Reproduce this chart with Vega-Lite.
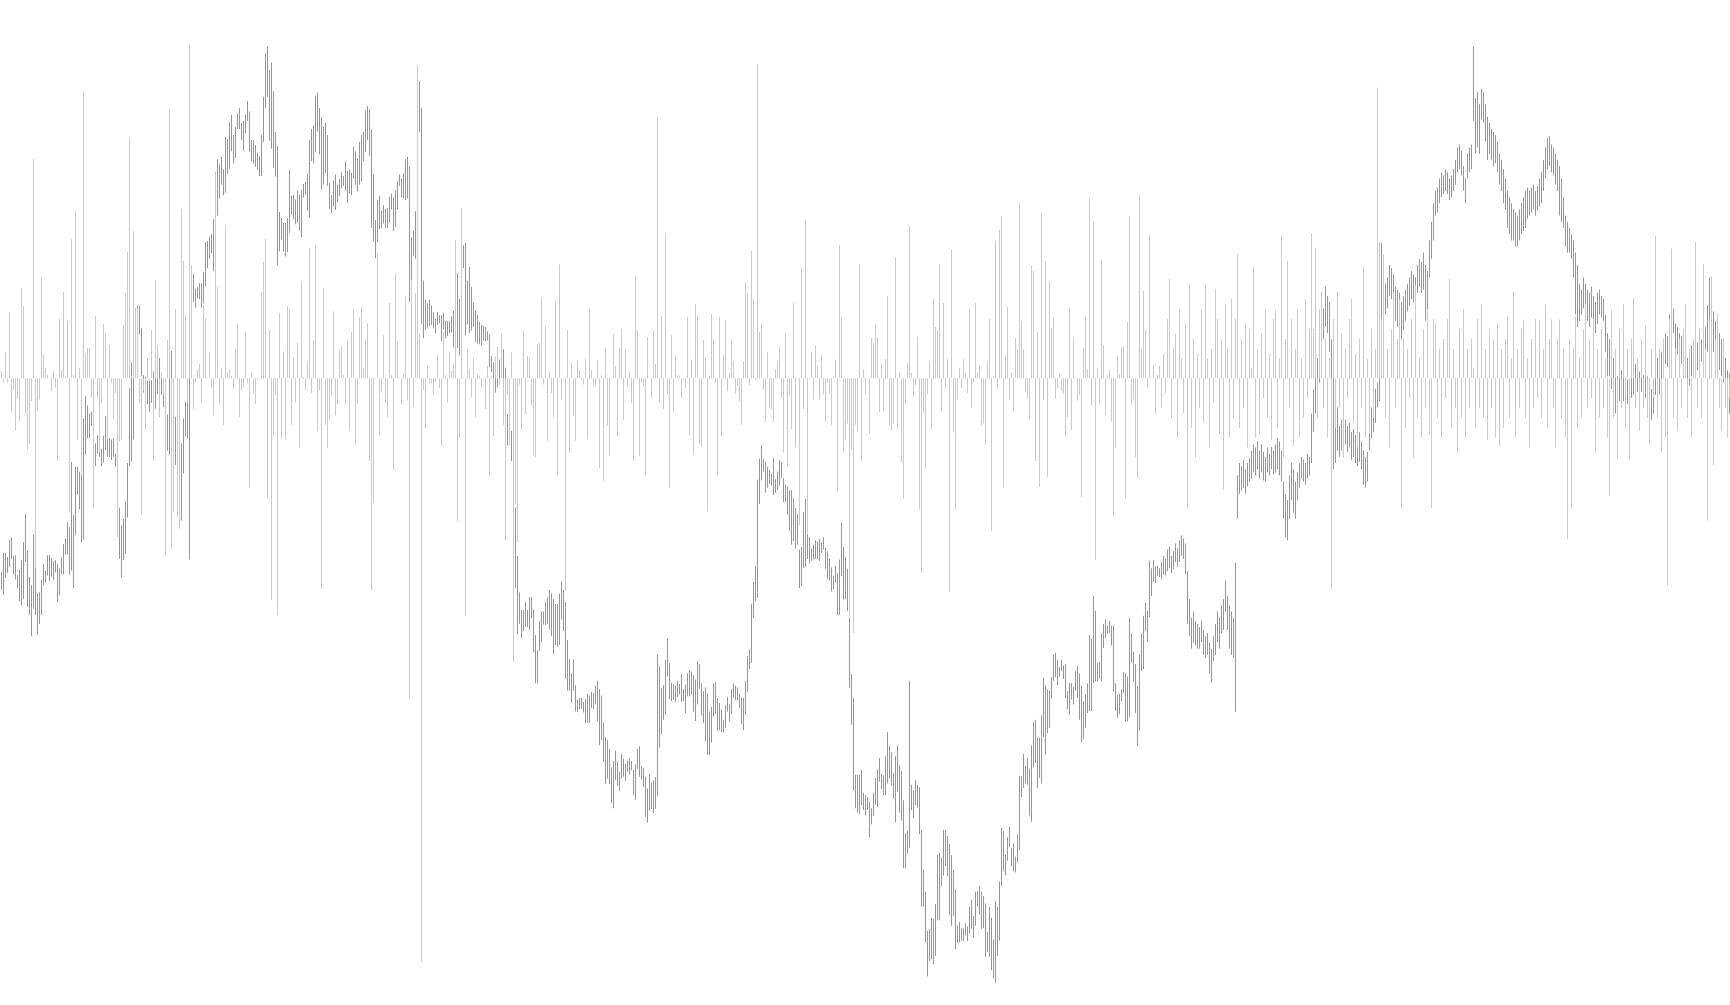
{"$schema":"https://vega.github.io/schema/vega-lite/v6.json","width":1730,"height":1005,"autosize":{"type":"fit","contains":"padding"},"padding":0,"background":"#ffffff","config":{"view":{"stroke":null}},
"data":{"values":[
{"i":0,"h":1124,"l":1095,"v":12},{"i":1,"h":1155,"l":1087,"v":-7},{"i":2,"h":1155,"l":1114,"v":42},{"i":3,"h":1148,"l":1122,"v":-7},{"i":4,"h":1176,"l":1132,"v":107},{"i":5,"h":1180,"l":1145,"v":-55},{"i":6,"h":1150,"l":1120,"v":-19},{"i":7,"h":1151,"l":1112,"v":-84},{"i":8,"h":1119,"l":1098,"v":-33},{"i":9,"h":1127,"l":1076,"v":-69},
{"i":10,"h":1143,"l":1070,"v":146},{"i":11,"h":1172,"l":1080,"v":117},{"i":12,"h":1218,"l":1140,"v":-57},{"i":13,"h":1159,"l":1067,"v":-115},{"i":14,"h":1116,"l":1054,"v":-107},{"i":15,"h":1103,"l":1020,"v":-37},{"i":16,"h":1184,"l":1065,"v":354},{"i":17,"h":1134,"l":1054,"v":-307},{"i":18,"h":1089,"l":1022,"v":-52},{"i":19,"h":1091,"l":1040,"v":-34},
{"i":20,"h":1111,"l":1054,"v":162},{"i":21,"h":1137,"l":1103,"v":39},{"i":22,"h":1126,"l":1107,"v":17},{"i":23,"h":1151,"l":1118,"v":5},{"i":24,"h":1151,"l":1109,"v":0},{"i":25,"h":1147,"l":1116,"v":-21},{"i":26,"h":1142,"l":1111,"v":12},{"i":27,"h":1143,"l":1123,"v":-15},{"i":28,"h":1137,"l":1075,"v":-134},{"i":29,"h":1130,"l":1086,"v":96},
{"i":30,"h":1148,"l":1120,"v":13},{"i":31,"h":1169,"l":1120,"v":139},{"i":32,"h":1178,"l":1152,"v":2},{"i":33,"h":1205,"l":1152,"v":93},{"i":34,"h":1197,"l":1120,"v":-217},{"i":35,"h":1302,"l":1126,"v":225},{"i":36,"h":1216,"l":1098,"v":5},{"i":37,"h":1294,"l":1183,"v":270},{"i":38,"h":1294,"l":1249,"v":-100},{"i":39,"h":1286,"l":1225,"v":17},
{"i":40,"h":1300,"l":1172,"v":-157},{"i":41,"h":1372,"l":1176,"v":463},{"i":42,"h":1408,"l":1314,"v":41},{"i":43,"h":1393,"l":1340,"v":49},{"i":44,"h":1380,"l":1340,"v":49},{"i":45,"h":1383,"l":1360,"v":-31},{"i":46,"h":1370,"l":1330,"v":-210},{"i":47,"h":1332,"l":1295,"v":101},{"i":48,"h":1345,"l":1315,"v":-33},{"i":49,"h":1340,"l":1310,"v":-120},
{"i":50,"h":1323,"l":1295,"v":-39},{"i":51,"h":1344,"l":1301,"v":88},{"i":52,"h":1376,"l":1321,"v":73},{"i":53,"h":1340,"l":1310,"v":-99},{"i":54,"h":1340,"l":1310,"v":54},{"i":55,"h":1338,"l":1305,"v":-8},{"i":56,"h":1340,"l":1310,"v":-65},{"i":57,"h":1315,"l":1294,"v":-24},{"i":58,"h":1300,"l":1230,"v":-257},{"i":59,"h":1228,"l":1145,"v":-102},
{"i":60,"h":1199,"l":1115,"v":-100},{"i":61,"h":1210,"l":1143,"v":85},{"i":62,"h":1238,"l":1153,"v":138},{"i":63,"h":1300,"l":1212,"v":204},{"i":64,"h":1421,"l":1295,"v":390},{"i":65,"h":1463,"l":1303,"v":3},{"i":66,"h":1440,"l":1338,"v":238},{"i":67,"h":1550,"l":1460,"v":112},{"i":68,"h":1555,"l":1480,"v":112},{"i":69,"h":1554,"l":1508,"v":-39},
{"i":70,"h":1518,"l":1440,"v":-220},{"i":71,"h":1442,"l":1414,"v":-21},{"i":72,"h":1440,"l":1400,"v":-83},{"i":73,"h":1433,"l":1395,"v":33},{"i":74,"h":1435,"l":1383,"v":-5},{"i":75,"h":1434,"l":1397,"v":78},{"i":76,"h":1448,"l":1400,"v":-134},{"i":77,"h":1460,"l":1388,"v":159},{"i":78,"h":1455,"l":1411,"v":54},{"i":79,"h":1470,"l":1400,"v":-63},
{"i":80,"h":1445,"l":1410,"v":7},{"i":81,"h":1425,"l":1390,"v":-27},{"i":82,"h":1400,"l":1360,"v":-285},{"i":83,"h":1378,"l":1320,"v":62},{"i":84,"h":1437,"l":1313,"v":434},{"i":85,"h":1481,"l":1360,"v":-275},{"i":86,"h":1400,"l":1310,"v":-217},{"i":87,"h":1375,"l":1297,"v":112},{"i":88,"h":1350,"l":1260,"v":-225},{"i":89,"h":1320,"l":1220,"v":-243},
{"i":90,"h":1332,"l":1207,"v":274},{"i":91,"h":1372,"l":1283,"v":190},{"i":92,"h":1399,"l":1343,"v":102},{"i":93,"h":1400,"l":1340,"v":-40},{"i":94,"h":1585,"l":1144,"v":539},{"i":95,"h":1600,"l":1550,"v":183},{"i":96,"h":1606,"l":1560,"v":-50},{"i":97,"h":1582,"l":1551,"v":-6},{"i":98,"h":1585,"l":1566,"v":14},{"i":99,"h":1591,"l":1565,"v":23},
{"i":100,"h":1591,"l":1551,"v":-39},{"i":101,"h":1609,"l":1558,"v":118},{"i":102,"h":1657,"l":1586,"v":97},{"i":103,"h":1659,"l":1615,"v":1},{"i":104,"h":1665,"l":1630,"v":42},{"i":105,"h":1670,"l":1639,"v":-15},{"i":106,"h":1694,"l":1610,"v":-60},{"i":107,"h":1770,"l":1700,"v":332},{"i":108,"h":1791,"l":1700,"v":148},{"i":109,"h":1783,"l":1728,"v":-42},
{"i":110,"h":1795,"l":1750,"v":17},{"i":111,"h":1775,"l":1733,"v":-76},{"i":112,"h":1827,"l":1737,"v":248},{"i":113,"h":1824,"l":1767,"v":9},{"i":114,"h":1851,"l":1775,"v":14},{"i":115,"h":1863,"l":1804,"v":4},{"i":116,"h":1830,"l":1784,"v":-18},{"i":117,"h":1843,"l":1793,"v":47},{"i":118,"h":1865,"l":1840,"v":88},{"i":119,"h":1874,"l":1840,"v":-63},
{"i":120,"h":1850,"l":1822,"v":-20},{"i":121,"h":1853,"l":1804,"v":-15},{"i":122,"h":1863,"l":1833,"v":75},{"i":123,"h":1885,"l":1853,"v":-8},{"i":124,"h":1868,"l":1803,"v":-177},{"i":125,"h":1822,"l":1788,"v":9},{"i":126,"h":1822,"l":1784,"v":-25},{"i":127,"h":1814,"l":1779,"v":-42},{"i":128,"h":1802,"l":1775,"v":-2},{"i":129,"h":1796,"l":1764,"v":1},
{"i":130,"h":1830,"l":1764,"v":139},{"i":131,"h":1892,"l":1819,"v":188},{"i":132,"h":1963,"l":1874,"v":225},{"i":133,"h":1973,"l":1892,"v":-194},{"i":134,"h":1935,"l":1821,"v":78},{"i":135,"h":1947,"l":1808,"v":-358},{"i":136,"h":1901,"l":1777,"v":-93},{"i":137,"h":1835,"l":1763,"v":-28},{"i":138,"h":1812,"l":1620,"v":-383},{"i":139,"h":1706,"l":1642,"v":106},
{"i":140,"h":1696,"l":1661,"v":-97},{"i":141,"h":1688,"l":1642,"v":43},{"i":142,"h":1688,"l":1634,"v":-99},{"i":143,"h":1696,"l":1641,"v":117},{"i":144,"h":1774,"l":1672,"v":110},{"i":145,"h":1732,"l":1702,"v":-75},{"i":146,"h":1734,"l":1694,"v":33},{"i":147,"h":1726,"l":1686,"v":-39},{"i":148,"h":1741,"l":1688,"v":57},{"i":149,"h":1734,"l":1676,"v":-113},
{"i":150,"h":1742,"l":1665,"v":157},{"i":151,"h":1751,"l":1729,"v":2},{"i":152,"h":1755,"l":1734,"v":-20},{"i":153,"h":1768,"l":1708,"v":28},{"i":154,"h":1822,"l":1697,"v":210},{"i":155,"h":1840,"l":1788,"v":-24},{"i":156,"h":1846,"l":1784,"v":62},{"i":157,"h":1894,"l":1803,"v":215},{"i":158,"h":1899,"l":1836,"v":-86},{"i":159,"h":1874,"l":1799,"v":-20},
{"i":160,"h":1859,"l":1742,"v":-341},{"i":161,"h":1844,"l":1750,"v":146},{"i":162,"h":1850,"l":1769,"v":-75},{"i":163,"h":1830,"l":1748,"v":-113},{"i":164,"h":1753,"l":1711,"v":-66},{"i":165,"h":1733,"l":1704,"v":-28},{"i":166,"h":1757,"l":1715,"v":108},{"i":167,"h":1766,"l":1709,"v":-60},{"i":168,"h":1750,"l":1722,"v":-42},{"i":169,"h":1759,"l":1731,"v":47},
{"i":170,"h":1770,"l":1744,"v":52},{"i":171,"h":1764,"l":1748,"v":5},{"i":172,"h":1788,"l":1740,"v":-42},{"i":173,"h":1772,"l":1720,"v":62},{"i":174,"h":1775,"l":1735,"v":-85},{"i":175,"h":1769,"l":1733,"v":75},{"i":176,"h":1811,"l":1760,"v":112},{"i":177,"h":1804,"l":1750,"v":-107},{"i":178,"h":1792,"l":1739,"v":-41},{"i":179,"h":1819,"l":1750,"v":99},
{"i":180,"h":1830,"l":1755,"v":115},{"i":181,"h":1835,"l":1788,"v":17},{"i":182,"h":1870,"l":1803,"v":62},{"i":183,"h":1877,"l":1822,"v":89},{"i":184,"h":1872,"l":1797,"v":-134},{"i":185,"h":1840,"l":1680,"v":-343},{"i":186,"h":1767,"l":1659,"v":-202},{"i":187,"h":1693,"l":1631,"v":-1},{"i":188,"h":1725,"l":1657,"v":201},{"i":189,"h":1732,"l":1678,"v":-92},
{"i":190,"h":1708,"l":1680,"v":-23},{"i":191,"h":1717,"l":1687,"v":70},{"i":192,"h":1711,"l":1680,"v":-39},{"i":193,"h":1712,"l":1680,"v":-63},{"i":194,"h":1730,"l":1689,"v":122},{"i":195,"h":1735,"l":1710,"v":5},{"i":196,"h":1730,"l":1675,"v":-149},{"i":197,"h":1741,"l":1682,"v":170},{"i":198,"h":1756,"l":1710,"v":59},{"i":199,"h":1766,"l":1748,"v":1},
{"i":200,"h":1760,"l":1730,"v":-42},{"i":201,"h":1769,"l":1728,"v":7},{"i":202,"h":1791,"l":1725,"v":132},{"i":203,"h":1795,"l":1728,"v":-36},{"i":204,"h":1779,"l":1560,"v":-517},{"i":205,"h":1665,"l":1596,"v":158},{"i":206,"h":1675,"l":1635,"v":-47},{"i":207,"h":1707,"l":1630,"v":138},{"i":208,"h":1910,"l":1800,"v":506},{"i":209,"h":1917,"l":1835,"v":72},
{"i":210,"h":1874,"l":1525,"v":-943},{"i":211,"h":1595,"l":1502,"v":-19},{"i":212,"h":1564,"l":1516,"v":-81},{"i":213,"h":1558,"l":1519,"v":20},{"i":214,"h":1564,"l":1522,"v":-10},{"i":215,"h":1555,"l":1523,"v":-8},{"i":216,"h":1544,"l":1518,"v":-26},{"i":217,"h":1533,"l":1510,"v":-5},{"i":218,"h":1544,"l":1523,"v":38},{"i":219,"h":1539,"l":1526,"v":-16},
{"i":220,"h":1539,"l":1497,"v":-110},{"i":221,"h":1543,"l":1516,"v":76},{"i":222,"h":1530,"l":1501,"v":5},{"i":223,"h":1530,"l":1505,"v":-39},{"i":224,"h":1530,"l":1510,"v":42},{"i":225,"h":1537,"l":1511,"v":12},{"i":226,"h":1546,"l":1487,"v":23},{"i":227,"h":1600,"l":1530,"v":224},{"i":228,"h":1607,"l":1486,"v":-231},{"i":229,"h":1565,"l":1474,"v":-97},
{"i":230,"h":1640,"l":1580,"v":275},{"i":231,"h":1652,"l":1615,"v":1},{"i":232,"h":1656,"l":1506,"v":-384},{"i":233,"h":1595,"l":1524,"v":47},{"i":234,"h":1617,"l":1510,"v":15},{"i":235,"h":1585,"l":1514,"v":-31},{"i":236,"h":1559,"l":1520,"v":32},{"i":237,"h":1547,"l":1496,"v":-63},{"i":238,"h":1539,"l":1493,"v":7},{"i":239,"h":1528,"l":1492,"v":4},
{"i":240,"h":1523,"l":1490,"v":-15},{"i":241,"h":1522,"l":1498,"v":1},{"i":242,"h":1520,"l":1497,"v":-50},{"i":243,"h":1513,"l":1498,"v":20},{"i":244,"h":1507,"l":1455,"v":-157},{"i":245,"h":1473,"l":1447,"v":3},{"i":246,"h":1463,"l":1437,"v":-94},{"i":247,"h":1455,"l":1414,"v":35},{"i":248,"h":1455,"l":1422,"v":51},{"i":249,"h":1467,"l":1430,"v":-11},
{"i":250,"h":1480,"l":1440,"v":72},{"i":251,"h":1484,"l":1430,"v":-75},{"i":252,"h":1454,"l":1420,"v":-262},{"i":253,"h":1379,"l":1328,"v":-27},{"i":254,"h":1370,"l":1330,"v":-109},{"i":255,"h":1352,"l":1303,"v":42},{"i":256,"h":1320,"l":1220,"v":-459},{"i":257,"h":1228,"l":1098,"v":-204},{"i":258,"h":1150,"l":1023,"v":-265},{"i":259,"h":1091,"l":1040,"v":-10},
{"i":260,"h":1063,"l":1017,"v":-83},{"i":261,"h":1062,"l":1028,"v":78},{"i":262,"h":1075,"l":1035,"v":-58},{"i":263,"h":1063,"l":1035,"v":36},{"i":264,"h":1083,"l":1030,"v":32},{"i":265,"h":1083,"l":1049,"v":-44},{"i":266,"h":1063,"l":994,"v":-126},{"i":267,"h":1022,"l":944,"v":-128},{"i":268,"h":997,"l":944,"v":54},{"i":269,"h":1045,"l":996,"v":57},
{"i":270,"h":1060,"l":1010,"v":131},{"i":271,"h":1060,"l":1039,"v":-10},{"i":272,"h":1076,"l":1038,"v":84},{"i":273,"h":1083,"l":1040,"v":-101},{"i":274,"h":1095,"l":1031,"v":12},{"i":275,"h":1089,"l":1020,"v":-24},{"i":276,"h":1080,"l":991,"v":-63},{"i":277,"h":1072,"l":1006,"v":126},{"i":278,"h":1072,"l":1003,"v":-157},{"i":279,"h":1089,"l":1006,"v":184},
{"i":280,"h":1109,"l":1047,"v":-35},{"i":281,"h":1095,"l":1028,"v":1},{"i":282,"h":1075,"l":951,"v":-344},{"i":283,"h":1014,"l":932,"v":78},{"i":284,"h":983,"l":932,"v":-121},{"i":285,"h":960,"l":913,"v":26},{"i":286,"h":982,"l":932,"v":-61},{"i":287,"h":941,"l":898,"v":-101},{"i":288,"h":917,"l":898,"v":30},{"i":289,"h":920,"l":902,"v":14},
{"i":290,"h":920,"l":903,"v":-3},{"i":291,"h":914,"l":897,"v":-10},{"i":292,"h":918,"l":880,"v":31},{"i":293,"h":927,"l":880,"v":-98},{"i":294,"h":924,"l":880,"v":112},{"i":295,"h":930,"l":904,"v":13},{"i":296,"h":928,"l":902,"v":-12},{"i":297,"h":940,"l":910,"v":-12},{"i":298,"h":948,"l":883,"v":30},{"i":299,"h":935,"l":844,"v":-145},
{"i":300,"h":924,"l":852,"v":5},{"i":301,"h":880,"l":817,"v":-166},{"i":302,"h":857,"l":781,"v":49},{"i":303,"h":852,"l":790,"v":-77},{"i":304,"h":838,"l":781,"v":-126},{"i":305,"h":808,"l":750,"v":1},{"i":306,"h":818,"l":742,"v":71},{"i":307,"h":835,"l":788,"v":20},{"i":308,"h":818,"l":778,"v":-94},{"i":309,"h":801,"l":770,"v":49},
{"i":310,"h":830,"l":790,"v":80},{"i":311,"h":822,"l":793,"v":-68},{"i":312,"h":814,"l":786,"v":47},{"i":313,"h":819,"l":801,"v":-15},{"i":314,"h":822,"l":796,"v":12},{"i":315,"h":818,"l":803,"v":-40},{"i":316,"h":804,"l":763,"v":-134},{"i":317,"h":813,"l":755,"v":165},{"i":318,"h":838,"l":805,"v":78},{"i":319,"h":842,"l":793,"v":-126},
{"i":320,"h":810,"l":788,"v":-7},{"i":321,"h":807,"l":776,"v":-12},{"i":322,"h":793,"l":728,"v":-157},{"i":323,"h":774,"l":719,"v":67},{"i":324,"h":797,"l":738,"v":1},{"i":325,"h":784,"l":741,"v":-32},{"i":326,"h":787,"l":734,"v":78},{"i":327,"h":792,"l":741,"v":23},{"i":328,"h":990,"l":762,"v":421},{"i":329,"h":971,"l":840,"v":-40},
{"i":330,"h":936,"l":862,"v":101},{"i":331,"h":941,"l":885,"v":-50},{"i":332,"h":982,"l":893,"v":235},{"i":333,"h":1016,"l":955,"v":-25},{"i":334,"h":977,"l":918,"v":-177},{"i":335,"h":945,"l":915,"v":70},{"i":336,"h":943,"l":917,"v":-53},{"i":337,"h":940,"l":914,"v":36},{"i":338,"h":948,"l":922,"v":5},{"i":339,"h":943,"l":926,"v":4},
{"i":340,"h":959,"l":914,"v":-32},{"i":341,"h":935,"l":915,"v":-2},{"i":342,"h":942,"l":896,"v":-16},{"i":343,"h":960,"l":923,"v":99},{"i":344,"h":965,"l":923,"v":-92},{"i":345,"h":963,"l":926,"v":30},{"i":346,"h":957,"l":898,"v":-124},{"i":347,"h":950,"l":883,"v":120},{"i":348,"h":980,"l":910,"v":101},{"i":349,"h":975,"l":935,"v":-106},
{"i":350,"h":944,"l":892,"v":-110},{"i":351,"h":931,"l":880,"v":62},{"i":352,"h":937,"l":850,"v":33},{"i":353,"h":928,"l":828,"v":-215},{"i":354,"h":898,"l":828,"v":4},{"i":355,"h":906,"l":848,"v":104},{"i":356,"h":944,"l":890,"v":64},{"i":357,"h":946,"l":894,"v":-7},{"i":358,"h":920,"l":867,"v":-157},{"i":359,"h":912,"l":868,"v":99},
{"i":360,"h":902,"l":865,"v":-94},{"i":361,"h":885,"l":864,"v":38},{"i":362,"h":908,"l":872,"v":94},{"i":363,"h":922,"l":898,"v":-21},{"i":364,"h":910,"l":883,"v":9},{"i":365,"h":935,"l":894,"v":62},{"i":366,"h":944,"l":921,"v":28},{"i":367,"h":940,"l":917,"v":-25},{"i":368,"h":937,"l":916,"v":-12},{"i":369,"h":927,"l":904,"v":-37},
{"i":370,"h":921,"l":878,"v":-75},{"i":371,"h":920,"l":868,"v":28},{"i":372,"h":948,"l":893,"v":156},{"i":373,"h":988,"l":930,"v":138},{"i":374,"h":999,"l":967,"v":-11},{"i":375,"h":1072,"l":977,"v":206},{"i":376,"h":1108,"l":1050,"v":128},{"i":377,"h":1134,"l":1077,"v":-3},{"i":378,"h":1273,"l":1082,"v":508},{"i":379,"h":1307,"l":1234,"v":75},
{"i":380,"h":1329,"l":1272,"v":88},{"i":381,"h":1307,"l":1286,"v":-18},{"i":382,"h":1302,"l":1252,"v":-71},{"i":383,"h":1294,"l":1260,"v":42},{"i":384,"h":1289,"l":1266,"v":-48},{"i":385,"h":1283,"l":1264,"v":-50},{"i":386,"h":1308,"l":1248,"v":-71},{"i":387,"h":1274,"l":1252,"v":15},{"i":388,"h":1286,"l":1256,"v":28},{"i":389,"h":1305,"l":1264,"v":51},
{"i":390,"h":1302,"l":1276,"v":-32},{"i":391,"h":1276,"l":1237,"v":-120},{"i":392,"h":1265,"l":1237,"v":72},{"i":393,"h":1262,"l":1216,"v":-142},{"i":394,"h":1256,"l":1190,"v":-27},{"i":395,"h":1256,"l":1168,"v":-82},{"i":396,"h":1243,"l":1174,"v":122},{"i":397,"h":1227,"l":1162,"v":-111},{"i":398,"h":1218,"l":1168,"v":1},{"i":399,"h":1160,"l":1098,"v":-237},
{"i":400,"h":1164,"l":1101,"v":178},{"i":401,"h":1221,"l":1130,"v":-50},{"i":402,"h":1242,"l":1132,"v":256},{"i":403,"h":1185,"l":1145,"v":-251},{"i":404,"h":1180,"l":1138,"v":1},{"i":405,"h":1162,"l":1142,"v":42},{"i":406,"h":1168,"l":1144,"v":-34},{"i":407,"h":1175,"l":1145,"v":54},{"i":408,"h":1173,"l":1145,"v":20},{"i":409,"h":1177,"l":1142,"v":-35},
{"i":410,"h":1172,"l":1155,"v":38},{"i":411,"h":1180,"l":1160,"v":-26},{"i":412,"h":1163,"l":1129,"v":-71},{"i":413,"h":1157,"l":1112,"v":-7},{"i":414,"h":1145,"l":1110,"v":-25},{"i":415,"h":1131,"l":1092,"v":-75},{"i":416,"h":1118,"l":1096,"v":2},{"i":417,"h":1134,"l":1107,"v":30},{"i":418,"h":1122,"l":1054,"v":-183},{"i":419,"h":1144,"l":1054,"v":215},
{"i":420,"h":1204,"l":1117,"v":99},{"i":421,"h":1164,"l":1079,"v":-119},{"i":422,"h":1148,"l":1080,"v":-100},{"i":423,"h":1129,"l":1061,"v":-73},{"i":424,"h":1050,"l":936,"v":-385},{"i":425,"h":959,"l":877,"v":-116},{"i":426,"h":920,"l":770,"v":-412},{"i":427,"h":796,"l":742,"v":-75},{"i":428,"h":796,"l":735,"v":-87},{"i":429,"h":796,"l":733,"v":185},
{"i":430,"h":804,"l":747,"v":-134},{"i":431,"h":767,"l":739,"v":15},{"i":432,"h":763,"l":731,"v":-26},{"i":433,"h":760,"l":739,"v":-1},{"i":434,"h":752,"l":695,"v":-90},{"i":435,"h":742,"l":716,"v":65},{"i":436,"h":767,"l":730,"v":57},{"i":437,"h":791,"l":748,"v":87},{"i":438,"h":805,"l":744,"v":67},{"i":439,"h":823,"l":785,"v":-55},
{"i":440,"h":798,"l":773,"v":23},{"i":441,"h":795,"l":763,"v":-52},{"i":442,"h":826,"l":763,"v":31},{"i":443,"h":865,"l":782,"v":133},{"i":444,"h":843,"l":790,"v":-75},{"i":445,"h":832,"l":779,"v":-84},{"i":446,"h":799,"l":757,"v":-73},{"i":447,"h":826,"l":719,"v":196},{"i":448,"h":844,"l":768,"v":-83},{"i":449,"h":812,"l":735,"v":9},
{"i":450,"h":802,"l":722,"v":-136},{"i":451,"h":755,"l":645,"v":-194},{"i":452,"h":702,"l":645,"v":-41},{"i":453,"h":705,"l":669,"v":25},{"i":454,"h":948,"l":678,"v":246},{"i":455,"h":780,"l":739,"v":9},{"i":456,"h":771,"l":726,"v":-31},{"i":457,"h":788,"l":747,"v":-11},{"i":458,"h":780,"l":743,"v":67},{"i":459,"h":776,"l":700,"v":-212},
{"i":460,"h":707,"l":583,"v":-315},{"i":461,"h":643,"l":583,"v":-56},{"i":462,"h":607,"l":525,"v":-147},{"i":463,"h":544,"l":470,"v":-26},{"i":464,"h":547,"l":495,"v":28},{"i":465,"h":565,"l":498,"v":-83},{"i":466,"h":563,"l":490,"v":128},{"i":467,"h":587,"l":503,"v":83},{"i":468,"h":667,"l":561,"v":78},{"i":469,"h":670,"l":561,"v":185},
{"i":470,"h":662,"l":616,"v":-52},{"i":471,"h":707,"l":633,"v":122},{"i":472,"h":707,"l":648,"v":-18},{"i":473,"h":697,"l":632,"v":31},{"i":474,"h":684,"l":569,"v":-346},{"i":475,"h":666,"l":552,"v":208},{"i":476,"h":642,"l":568,"v":-87},{"i":477,"h":611,"l":514,"v":-212},{"i":478,"h":552,"l":524,"v":-34},{"i":479,"h":558,"l":525,"v":17},
{"i":480,"h":548,"l":528,"v":-16},{"i":481,"h":548,"l":527,"v":31},{"i":482,"h":556,"l":536,"v":9},{"i":483,"h":551,"l":527,"v":-24},{"i":484,"h":583,"l":539,"v":112},{"i":485,"h":594,"l":547,"v":-47},{"i":486,"h":568,"l":533,"v":-7},{"i":487,"h":607,"l":552,"v":122},{"i":488,"h":608,"l":583,"v":9},{"i":489,"h":616,"l":570,"v":20},
{"i":490,"h":607,"l":547,"v":-76},{"i":491,"h":600,"l":548,"v":-73},{"i":492,"h":588,"l":502,"v":-108},{"i":493,"h":542,"l":510,"v":28},{"i":494,"h":582,"l":502,"v":96},{"i":495,"h":565,"l":480,"v":-247},{"i":496,"h":530,"l":467,"v":4},{"i":497,"h":592,"l":460,"v":222},{"i":498,"h":582,"l":503,"v":-18},{"i":499,"h":624,"l":528,"v":240},
{"i":500,"h":710,"l":616,"v":262},{"i":501,"h":705,"l":640,"v":-177},{"i":502,"h":667,"l":633,"v":36},{"i":503,"h":695,"l":657,"v":115},{"i":504,"h":712,"l":679,"v":-35},{"i":505,"h":678,"l":648,"v":9},{"i":506,"h":685,"l":640,"v":-52},{"i":507,"h":664,"l":638,"v":65},{"i":508,"h":700,"l":654,"v":47},{"i":509,"h":794,"l":674,"v":283},
{"i":510,"h":794,"l":760,"v":93},{"i":511,"h":830,"l":775,"v":47},{"i":512,"h":810,"l":782,"v":-21},{"i":513,"h":823,"l":780,"v":-33},{"i":514,"h":806,"l":730,"v":-66},{"i":515,"h":844,"l":720,"v":182},{"i":516,"h":882,"l":808,"v":173},{"i":517,"h":885,"l":815,"v":-134},{"i":518,"h":856,"l":775,"v":75},{"i":519,"h":856,"l":791,"v":-176},
{"i":520,"h":892,"l":782,"v":267},{"i":521,"h":953,"l":857,"v":-35},{"i":522,"h":941,"l":828,"v":190},{"i":523,"h":934,"l":863,"v":-159},{"i":524,"h":932,"l":872,"v":157},{"i":525,"h":954,"l":919,"v":81},{"i":526,"h":991,"l":948,"v":98},{"i":527,"h":993,"l":954,"v":-33},{"i":528,"h":982,"l":941,"v":-16},{"i":529,"h":970,"l":955,"v":7},
{"i":530,"h":982,"l":964,"v":-20},{"i":531,"h":973,"l":951,"v":-25},{"i":532,"h":975,"l":920,"v":-93},{"i":533,"h":931,"l":902,"v":-63},{"i":534,"h":944,"l":893,"v":114},{"i":535,"h":944,"l":918,"v":-84},{"i":536,"h":938,"l":910,"v":67},{"i":537,"h":964,"l":932,"v":1},{"i":538,"h":972,"l":920,"v":-36},{"i":539,"h":960,"l":885,"v":-27},
{"i":540,"h":940,"l":849,"v":-192},{"i":541,"h":915,"l":854,"v":49},{"i":542,"h":927,"l":872,"v":99},{"i":543,"h":944,"l":896,"v":15},{"i":544,"h":1022,"l":899,"v":291},{"i":545,"h":1016,"l":899,"v":-44},{"i":546,"h":1085,"l":944,"v":254},{"i":547,"h":1061,"l":947,"v":-294},{"i":548,"h":977,"l":947,"v":17},{"i":549,"h":979,"l":952,"v":-41},
{"i":550,"h":1025,"l":947,"v":191},{"i":551,"h":1040,"l":1001,"v":54},{"i":552,"h":1047,"l":1017,"v":-60},{"i":553,"h":1037,"l":1024,"v":4},{"i":554,"h":1045,"l":1025,"v":14},{"i":555,"h":1037,"l":1005,"v":-70},{"i":556,"h":1038,"l":930,"v":-223},{"i":557,"h":944,"l":899,"v":-112},{"i":558,"h":925,"l":888,"v":36},{"i":559,"h":927,"l":894,"v":7},
{"i":560,"h":934,"l":915,"v":49},{"i":561,"h":962,"l":928,"v":52},{"i":562,"h":960,"l":882,"v":-194},{"i":563,"h":955,"l":883,"v":91},{"i":564,"h":1050,"l":889,"v":262},{"i":565,"h":1025,"l":977,"v":-43},{"i":566,"h":995,"l":946,"v":-34},{"i":567,"h":975,"l":896,"v":-128},{"i":568,"h":940,"l":843,"v":-162},{"i":569,"h":990,"l":867,"v":296},
{"i":570,"h":1025,"l":964,"v":47},{"i":571,"h":1053,"l":967,"v":141},{"i":572,"h":1074,"l":1028,"v":78},{"i":573,"h":1061,"l":1011,"v":-15},{"i":574,"h":1142,"l":1051,"v":232},{"i":575,"h":1130,"l":1085,"v":1},{"i":576,"h":1143,"l":1108,"v":21},{"i":577,"h":1133,"l":1106,"v":-58},{"i":578,"h":1134,"l":1117,"v":5},{"i":579,"h":1130,"l":1116,"v":20},
{"i":580,"h":1140,"l":1112,"v":-48},{"i":581,"h":1150,"l":1120,"v":40},{"i":582,"h":1145,"l":1118,"v":-24},{"i":583,"h":1160,"l":1125,"v":96},{"i":584,"h":1165,"l":1130,"v":160},{"i":585,"h":1150,"l":1122,"v":-64},{"i":586,"h":1158,"l":1128,"v":48},{"i":587,"h":1170,"l":1140,"v":72},{"i":588,"h":1162,"l":1132,"v":-96},{"i":589,"h":1175,"l":1140,"v":112},
{"i":590,"h":1183,"l":1150,"v":32},{"i":591,"h":1178,"l":1145,"v":-56},{"i":592,"h":1170,"l":1120,"v":90},{"i":593,"h":1125,"l":1040,"v":-210},{"i":594,"h":1080,"l":1020,"v":150},{"i":595,"h":1050,"l":1000,"v":-80},{"i":596,"h":1060,"l":1010,"v":64},{"i":597,"h":1045,"l":1005,"v":-128},{"i":598,"h":1040,"l":1000,"v":40},{"i":599,"h":1035,"l":1000,"v":-48},
{"i":600,"h":1045,"l":1010,"v":112},{"i":601,"h":1030,"l":990,"v":-72},{"i":602,"h":1020,"l":985,"v":150},{"i":603,"h":1025,"l":990,"v":32},{"i":604,"h":1010,"l":960,"v":-112},{"i":605,"h":1000,"l":945,"v":48},{"i":606,"h":1020,"l":980,"v":-40},{"i":607,"h":1040,"l":990,"v":145},{"i":608,"h":1060,"l":1010,"v":96},{"i":609,"h":1050,"l":1000,"v":-90},
{"i":610,"h":1070,"l":1025,"v":64},{"i":611,"h":1080,"l":1030,"v":-180},{"i":612,"h":1110,"l":1060,"v":120},{"i":613,"h":1085,"l":1030,"v":48},{"i":614,"h":1070,"l":1000,"v":-96},{"i":615,"h":1060,"l":990,"v":128},{"i":616,"h":1050,"l":985,"v":-64},{"i":617,"h":1139,"l":898,"v":96},{"i":618,"h":1280,"l":1210,"v":200},{"i":619,"h":1300,"l":1250,"v":-80},
{"i":620,"h":1295,"l":1255,"v":64},{"i":621,"h":1305,"l":1260,"v":-48},{"i":622,"h":1290,"l":1250,"v":90},{"i":623,"h":1300,"l":1262,"v":-112},{"i":624,"h":1308,"l":1270,"v":80},{"i":625,"h":1320,"l":1275,"v":16},{"i":626,"h":1330,"l":1285,"v":180},{"i":627,"h":1325,"l":1280,"v":-96},{"i":628,"h":1335,"l":1290,"v":48},{"i":629,"h":1320,"l":1275,"v":-90},
{"i":630,"h":1330,"l":1285,"v":72},{"i":631,"h":1318,"l":1272,"v":-32},{"i":632,"h":1310,"l":1270,"v":112},{"i":633,"h":1325,"l":1285,"v":-64},{"i":634,"h":1315,"l":1280,"v":40},{"i":635,"h":1326,"l":1290,"v":-100},{"i":636,"h":1320,"l":1282,"v":96},{"i":637,"h":1330,"l":1285,"v":110},{"i":638,"h":1340,"l":1290,"v":-80},{"i":639,"h":1335,"l":1280,"v":32},
{"i":640,"h":1320,"l":1270,"v":230},{"i":641,"h":1270,"l":1210,"v":-128},{"i":642,"h":1250,"l":1180,"v":64},{"i":643,"h":1240,"l":1175,"v":190},{"i":644,"h":1280,"l":1210,"v":-48},{"i":645,"h":1300,"l":1240,"v":96},{"i":646,"h":1290,"l":1220,"v":-110},{"i":647,"h":1270,"l":1210,"v":48},{"i":648,"h":1285,"l":1240,"v":110},{"i":649,"h":1300,"l":1260,"v":-96},
{"i":650,"h":1310,"l":1275,"v":32},{"i":651,"h":1305,"l":1270,"v":-64},{"i":652,"h":1300,"l":1265,"v":128},{"i":653,"h":1315,"l":1275,"v":-32},{"i":654,"h":1310,"l":1280,"v":80},{"i":655,"h":1380,"l":1300,"v":235},{"i":656,"h":1420,"l":1350,"v":80},{"i":657,"h":1450,"l":1380,"v":210},{"i":658,"h":1470,"l":1400,"v":-64},{"i":659,"h":1490,"l":1430,"v":112},
{"i":660,"h":1520,"l":1460,"v":140},{"i":661,"h":1550,"l":1500,"v":-48},{"i":662,"h":1585,"l":1520,"v":64},{"i":663,"h":1570,"l":1510,"v":-96},{"i":664,"h":1560,"l":1480,"v":32},{"i":665,"h":1500,"l":1400,"v":-340},{"i":666,"h":1440,"l":1290,"v":96},{"i":667,"h":1420,"l":1300,"v":-80},{"i":668,"h":1390,"l":1320,"v":140},{"i":669,"h":1360,"l":1310,"v":-48},
{"i":670,"h":1370,"l":1320,"v":72},{"i":671,"h":1365,"l":1322,"v":-128},{"i":672,"h":1370,"l":1330,"v":48},{"i":673,"h":1360,"l":1318,"v":-32},{"i":674,"h":1365,"l":1325,"v":96},{"i":675,"h":1350,"l":1305,"v":128},{"i":676,"h":1355,"l":1310,"v":-72},{"i":677,"h":1345,"l":1300,"v":40},{"i":678,"h":1340,"l":1295,"v":-112},{"i":679,"h":1350,"l":1302,"v":64},
{"i":680,"h":1335,"l":1290,"v":-48},{"i":681,"h":1320,"l":1265,"v":180},{"i":682,"h":1310,"l":1260,"v":-96},{"i":683,"h":1318,"l":1270,"v":32},{"i":684,"h":1370,"l":1320,"v":-90},{"i":685,"h":1390,"l":1340,"v":80},{"i":686,"h":1400,"l":1350,"v":-64},{"i":687,"h":1420,"l":1365,"v":48},{"i":688,"h":1430,"l":1390,"v":470},{"i":689,"h":1445,"l":1400,"v":220},
{"i":690,"h":1656,"l":1531,"v":96},{"i":691,"h":1610,"l":1560,"v":200},{"i":692,"h":1590,"l":1540,"v":-64},{"i":693,"h":1600,"l":1550,"v":48},{"i":694,"h":1620,"l":1570,"v":-112},{"i":695,"h":1615,"l":1565,"v":80},{"i":696,"h":1605,"l":1555,"v":140},{"i":697,"h":1585,"l":1530,"v":-48},{"i":698,"h":1580,"l":1520,"v":64},{"i":699,"h":1575,"l":1525,"v":128},
{"i":700,"h":1560,"l":1500,"v":-210},{"i":701,"h":1570,"l":1515,"v":64},{"i":702,"h":1580,"l":1530,"v":-80},{"i":703,"h":1590,"l":1545,"v":48},{"i":704,"h":1600,"l":1555,"v":-32},{"i":705,"h":1610,"l":1565,"v":96},{"i":706,"h":1605,"l":1560,"v":-128},{"i":707,"h":1600,"l":1555,"v":150},{"i":708,"h":1620,"l":1575,"v":-64},{"i":709,"h":1630,"l":1585,"v":32},
{"i":710,"h":1625,"l":1575,"v":-96},{"i":711,"h":1640,"l":1580,"v":80},{"i":712,"h":1620,"l":1530,"v":-48},{"i":713,"h":1610,"l":1540,"v":112},{"i":714,"h":1660,"l":1600,"v":-90},{"i":715,"h":1690,"l":1630,"v":-210},{"i":716,"h":1720,"l":1660,"v":96},{"i":717,"h":1740,"l":1700,"v":90},{"i":718,"h":1745,"l":1705,"v":-64},{"i":719,"h":1760,"l":1720,"v":48},
{"i":720,"h":1770,"l":1730,"v":-96},{"i":721,"h":1765,"l":1735,"v":64},{"i":722,"h":1775,"l":1740,"v":-32},{"i":723,"h":1770,"l":1735,"v":96},{"i":724,"h":1760,"l":1725,"v":160},{"i":725,"h":1765,"l":1730,"v":-80},{"i":726,"h":1775,"l":1740,"v":48},{"i":727,"h":1790,"l":1750,"v":-48},{"i":728,"h":1810,"l":1770,"v":-120},{"i":729,"h":1815,"l":1775,"v":80},
{"i":730,"h":1805,"l":1765,"v":-64},{"i":731,"h":1780,"l":1740,"v":112},{"i":732,"h":1760,"l":1720,"v":-96},{"i":733,"h":1800,"l":1760,"v":48},{"i":734,"h":1810,"l":1770,"v":-48},{"i":735,"h":1815,"l":1775,"v":64},{"i":736,"h":1973,"l":1853,"v":16},{"i":737,"h":1890,"l":1800,"v":-80},{"i":738,"h":1900,"l":1810,"v":96},{"i":739,"h":1880,"l":1800,"v":-48},
{"i":740,"h":1905,"l":1855,"v":120},{"i":741,"h":1900,"l":1850,"v":-64},{"i":742,"h":1880,"l":1820,"v":48},{"i":743,"h":1860,"l":1790,"v":-100},{"i":744,"h":1850,"l":1800,"v":80},{"i":745,"h":1840,"l":1790,"v":-48},{"i":746,"h":1835,"l":1780,"v":64},{"i":747,"h":1830,"l":1785,"v":-96},{"i":748,"h":1820,"l":1770,"v":90},{"i":749,"h":1800,"l":1750,"v":-110},
{"i":750,"h":1790,"l":1740,"v":48},{"i":751,"h":1775,"l":1720,"v":-80},{"i":752,"h":1760,"l":1710,"v":64},{"i":753,"h":1740,"l":1680,"v":100},{"i":754,"h":1730,"l":1670,"v":-64},{"i":755,"h":1720,"l":1660,"v":32},{"i":756,"h":1710,"l":1660,"v":140},{"i":757,"h":1705,"l":1650,"v":-96},{"i":758,"h":1700,"l":1650,"v":48},{"i":759,"h":1710,"l":1660,"v":-48},
{"i":760,"h":1720,"l":1670,"v":80},{"i":761,"h":1730,"l":1675,"v":95},{"i":762,"h":1740,"l":1680,"v":-64},{"i":763,"h":1745,"l":1695,"v":32},{"i":764,"h":1740,"l":1700,"v":-112},{"i":765,"h":1745,"l":1705,"v":64},{"i":766,"h":1750,"l":1710,"v":-48},{"i":767,"h":1740,"l":1700,"v":96},{"i":768,"h":1748,"l":1708,"v":-32},{"i":769,"h":1760,"l":1715,"v":95},
{"i":770,"h":1770,"l":1720,"v":-64},{"i":771,"h":1790,"l":1740,"v":48},{"i":772,"h":1810,"l":1760,"v":120},{"i":773,"h":1825,"l":1775,"v":-80},{"i":774,"h":1828,"l":1780,"v":64},{"i":775,"h":1815,"l":1770,"v":95},{"i":776,"h":1810,"l":1765,"v":-48},{"i":777,"h":1800,"l":1750,"v":-112},{"i":778,"h":1790,"l":1740,"v":64},{"i":779,"h":1780,"l":1700,"v":95},
{"i":780,"h":1760,"l":1690,"v":-64},{"i":781,"h":1730,"l":1680,"v":48},{"i":782,"h":1700,"l":1650,"v":-96},{"i":783,"h":1690,"l":1640,"v":-260},{"i":784,"h":1680,"l":1640,"v":64},{"i":785,"h":1670,"l":1630,"v":-210},{"i":786,"h":1660,"l":1600,"v":48},{"i":787,"h":1640,"l":1540,"v":100},{"i":788,"h":1620,"l":1520,"v":-80},{"i":789,"h":1590,"l":1530,"v":32},
{"i":790,"h":1580,"l":1540,"v":-64},{"i":791,"h":1600,"l":1550,"v":80},{"i":792,"h":1590,"l":1545,"v":120},{"i":793,"h":1580,"l":1530,"v":-48},{"i":794,"h":1575,"l":1520,"v":64},{"i":795,"h":1585,"l":1535,"v":-32},{"i":796,"h":1570,"l":1520,"v":96},{"i":797,"h":1560,"l":1510,"v":-120},{"i":798,"h":1575,"l":1525,"v":48},{"i":799,"h":1580,"l":1540,"v":-64},
{"i":800,"h":1570,"l":1535,"v":80},{"i":801,"h":1565,"l":1530,"v":-48},{"i":802,"h":1540,"l":1480,"v":32},{"i":803,"h":1510,"l":1440,"v":-96},{"i":804,"h":1500,"l":1440,"v":-190},{"i":805,"h":1490,"l":1420,"v":110},{"i":806,"h":1470,"l":1400,"v":-64},{"i":807,"h":1450,"l":1380,"v":48},{"i":808,"h":1440,"l":1390,"v":-130},{"i":809,"h":1460,"l":1400,"v":80},
{"i":810,"h":1450,"l":1410,"v":-48},{"i":811,"h":1445,"l":1400,"v":120},{"i":812,"h":1430,"l":1400,"v":-80},{"i":813,"h":1435,"l":1395,"v":48},{"i":814,"h":1430,"l":1400,"v":-130},{"i":815,"h":1440,"l":1405,"v":64},{"i":816,"h":1450,"l":1410,"v":130},{"i":817,"h":1460,"l":1420,"v":-48},{"i":818,"h":1455,"l":1415,"v":32},{"i":819,"h":1448,"l":1412,"v":-85},
{"i":820,"h":1450,"l":1415,"v":64},{"i":821,"h":1442,"l":1410,"v":-48},{"i":822,"h":1445,"l":1405,"v":85},{"i":823,"h":1440,"l":1395,"v":-64},{"i":824,"h":1435,"l":1380,"v":-106},{"i":825,"h":1420,"l":1370,"v":48},{"i":826,"h":1430,"l":1380,"v":-32},{"i":827,"h":1460,"l":1410,"v":230},{"i":828,"h":1470,"l":1420,"v":-64},{"i":829,"h":1465,"l":1410,"v":48},
{"i":830,"h":1480,"l":1430,"v":-120},{"i":831,"h":1500,"l":1440,"v":64},{"i":832,"h":1510,"l":1460,"v":-96},{"i":833,"h":1505,"l":1455,"v":-335},{"i":834,"h":1540,"l":1495,"v":96},{"i":835,"h":1545,"l":1500,"v":210},{"i":836,"h":1550,"l":1510,"v":-64},{"i":837,"h":1525,"l":1480,"v":48},{"i":838,"h":1520,"l":1475,"v":-85},{"i":839,"h":1510,"l":1470,"v":64},
{"i":840,"h":1505,"l":1460,"v":-48},{"i":841,"h":1490,"l":1450,"v":80},{"i":842,"h":1480,"l":1440,"v":120},{"i":843,"h":1470,"l":1430,"v":-64},{"i":844,"h":1475,"l":1425,"v":48},{"i":845,"h":1490,"l":1440,"v":-96},{"i":846,"h":1500,"l":1450,"v":64},{"i":847,"h":1505,"l":1460,"v":220},{"i":848,"h":1495,"l":1450,"v":-48},{"i":849,"h":1490,"l":1460,"v":80},
{"i":850,"h":1500,"l":1465,"v":-64},{"i":851,"h":1495,"l":1460,"v":185},{"i":852,"h":1520,"l":1470,"v":48},{"i":853,"h":1555,"l":1480,"v":-230},{"i":854,"h":1600,"l":1520,"v":96},{"i":855,"h":1590,"l":1530,"v":165},{"i":856,"h":1545,"l":1480,"v":-140},{"i":857,"h":1530,"l":1470,"v":64},{"i":858,"h":1520,"l":1460,"v":105},{"i":859,"h":1510,"l":1450,"v":-48},
{"i":860,"h":1500,"l":1440,"v":-85},{"i":861,"h":1490,"l":1430,"v":64},{"i":862,"h":1470,"l":1400,"v":-48},{"i":863,"h":1450,"l":1390,"v":-96},{"i":864,"h":1445,"l":1380,"v":-32}
]},
"layer":[
{"mark":{"type":"rule","color":"#00ff00","strokeWidth":1},
 "encoding":{
  "x":{"field":"i","type":"quantitative","scale":{"domain":[-0.75,864.25],"nice":false,"zero":false},"axis":null},
  "y":{"field":"h","type":"quantitative","scale":{"domain":[423.9,2048.5],"nice":false,"zero":false},"axis":null},
  "y2":{"field":"l"}}},
{"mark":{"type":"rule","color":"#ffd700","strokeWidth":1},
 "encoding":{
  "x":{"field":"i","type":"quantitative","axis":null},
  "y":{"field":"v","type":"quantitative","scale":{"domain":[-1013.1,611.5],"nice":false,"zero":false},"axis":null},
  "y2":{"datum":0}}}
],
"resolve":{"scale":{"y":"independent"}}
}
